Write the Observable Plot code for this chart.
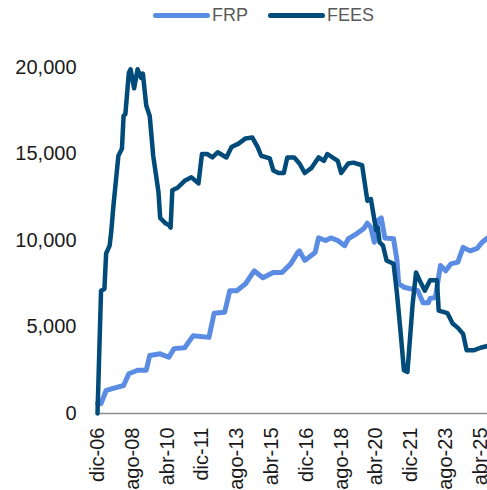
<!DOCTYPE html>
<html>
<head>
<meta charset="utf-8">
<script src="https://cdn.jsdelivr.net/npm/d3@7"></script>
<script src="https://cdn.jsdelivr.net/npm/@observablehq/plot@0.6"></script>
<style>
  html, body { margin: 0; padding: 0; background: #fff; }
  body { width: 487px; height: 490px; overflow: hidden; font-family: "Liberation Sans", Arial, sans-serif; }
  #legend { position: relative; height: 30px; }
  .lg { position: absolute; top: 3px; font-size: 18px; color: #595959; line-height: 24px; }
  .sw { position: absolute; top: 13px; height: 5px; border-radius: 3px; }
</style>
</head>
<body>
<div id="legend"></div>
<div id="chart"></div>
<script>
const seriesNames = ["FRP", "FEES"];
const seriesColors = ["#5B8CE4", "#004B7A"];

const frpDates = ["2006-12","2007-02","2007-05","2007-09","2008-03","2008-06","2008-11","2009-04","2009-06","2009-12","2010-05","2010-08","2011-02","2011-07","2012-04","2012-07","2013-01","2013-04","2013-08","2014-01","2014-06","2014-11","2015-05","2015-10","2016-03","2016-07","2016-08","2016-11","2017-05","2017-07","2017-11","2018-02","2018-06","2018-10","2018-12","2019-05","2019-09","2019-11","2020-01","2020-03","2020-05","2020-07","2020-09","2021-02","2021-04","2021-05","2021-08","2021-12","2022-04","2022-07","2022-10","2022-11","2023-02","2023-05","2023-08","2023-11","2024-03","2024-06","2024-10","2025-02","2025-05","2025-08"];
const frpValues = [580,580,1330,1450,1620,2300,2500,2500,3350,3450,3250,3750,3800,4500,4400,5800,5850,7100,7100,7500,8250,7850,8150,8150,8650,9300,9400,8850,9300,10150,10000,10150,10000,9700,10100,10400,10700,11000,10750,9900,11150,11300,10150,10100,8850,7500,7300,7200,7100,6400,6400,6650,6700,8550,8250,8650,8750,9600,9400,9550,9900,10150];

const feesDates = ["2006-12","2007-02","2007-04","2007-05","2007-07","2007-08","2007-09","2007-12","2008-02","2008-03","2008-04","2008-06","2008-07","2008-09","2008-11","2009-01","2009-02","2009-04","2009-06","2009-08","2009-11","2009-12","2010-03","2010-05","2010-06","2010-07","2010-10","2011-02","2011-06","2011-10","2011-12","2012-03","2012-06","2012-09","2013-02","2013-05","2013-09","2014-01","2014-05","2014-08","2014-10","2015-03","2015-05","2015-08","2015-11","2016-01","2016-05","2016-08","2016-11","2017-03","2017-07","2017-10","2017-12","2018-06","2018-08","2018-12","2019-03","2019-08","2019-11","2020-01","2020-04","2020-05","2020-06","2020-08","2020-10","2021-02","2021-04","2021-06","2021-08","2021-10","2022-01","2022-03","2022-05","2022-08","2022-11","2023-03","2023-04","2023-09","2023-12","2024-03","2024-06","2024-08","2024-12","2025-04","2025-08"];
const feesValues = [0,7100,7200,9250,9700,10600,11850,14900,15300,17200,17300,19700,19900,18800,19900,19400,19650,17800,17200,14900,12800,11300,11000,10900,10750,12900,13050,13450,13650,13300,15000,15000,14800,15100,14800,15400,15600,15900,15950,15400,14900,14750,14050,13900,13900,14800,14800,14450,13900,14200,14800,14600,15000,14600,13900,14450,14500,14350,12300,12400,10600,10750,9900,9700,8850,8650,6950,4800,2500,2400,6350,8150,7700,7100,7700,7700,5950,5800,5200,4950,4600,3650,3650,3800,3900];

const xTickDates = ["2006-12","2008-08","2010-04","2011-12","2013-08","2015-04","2016-12","2018-08","2020-04","2021-12","2023-08","2025-04"];
const monthNames = ["ene","feb","mar","abr","may","jun","jul","ago","sep","oct","nov","dic"];
const yTicks = [0, 5000, 10000, 15000, 20000];
const xStart = "2006-12", xEnd = "2025-08";

const parse = d3.utcParse("%Y-%m");
const rows = [];
frpDates.forEach((d, i) => rows.push({series: "FRP", date: parse(d), value: frpValues[i]}));
feesDates.forEach((d, i) => rows.push({series: "FEES", date: parse(d), value: feesValues[i]}));

// legend
const legend = document.getElementById("legend");
const lgPos = [{sw: 153, tx: 212}, {sw: 268, tx: 327}];
seriesNames.forEach((n, i) => {
  const s = document.createElement("div");
  s.className = "sw";
  s.style.left = lgPos[i].sw + "px";
  s.style.width = "57px";
  s.style.background = seriesColors[i];
  legend.appendChild(s);
  const t = document.createElement("div");
  t.className = "lg";
  t.style.left = lgPos[i].tx + "px";
  t.textContent = n;
  legend.appendChild(t);
});

const fmtX = d => monthNames[d.getUTCMonth()] + "-" + String(d.getUTCFullYear() % 100).padStart(2, "0");

const chart = Plot.plot({
  width: 487,
  height: 460,
  marginLeft: 97,
  marginRight: 0,
  marginTop: 37,
  marginBottom: 77,
  style: {fontFamily: "'Liberation Sans', Arial, sans-serif", fontSize: "20px", color: "#1a1a1a", background: "#fff"},
  x: {type: "utc", domain: [parse(xStart), parse(xEnd)], ticks: xTickDates.map(parse), tickFormat: fmtX, tickRotate: -90, tickSize: 0, tickPadding: 14, label: null},
  y: {domain: [0, 20000], ticks: yTicks, tickFormat: d => d3.format(",")(d), tickSize: 0, tickPadding: 21, label: null},
  color: {domain: seriesNames, range: seriesColors},
  marks: [
    Plot.ruleY([0], {stroke: "#8c8c8c", strokeWidth: 1.5}),
    Plot.line(rows.filter(r => r.series === "FRP"), {x: "date", y: "value", stroke: "series", strokeWidth: 5, strokeLinejoin: "round", strokeLinecap: "round"}),
    Plot.line(rows.filter(r => r.series === "FEES"), {x: "date", y: "value", stroke: "series", strokeWidth: 4.5, strokeLinejoin: "round", strokeLinecap: "round"})
  ]
});
document.getElementById("chart").appendChild(chart);
</script>
</body>
</html>
